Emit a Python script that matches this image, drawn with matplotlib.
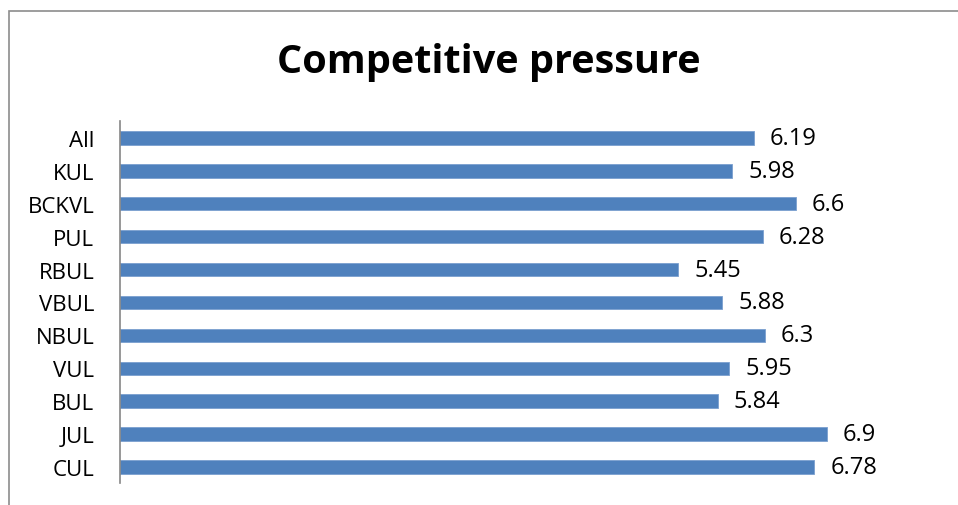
import matplotlib
matplotlib.use('Agg')
import matplotlib.pyplot as plt
from matplotlib.patches import Rectangle

# --- Daten ---
categories = ['All', 'KUL', 'BCKVL', 'PUL', 'RBUL', 'VBUL', 'NBUL', 'VUL', 'BUL', 'JUL', 'CUL']
values = [6.19, 5.98, 6.6, 6.28, 5.45, 5.88, 6.3, 5.95, 5.84, 6.9, 6.78]
value_labels = ['6.19', '5.98', '6.6', '6.28', '5.45', '5.88', '6.3', '5.95', '5.84', '6.9', '6.78']

plt.rcParams['font.family'] = ['Open Sans', 'DejaVu Sans']

fig = plt.figure(figsize=(9.58, 5.06), dpi=100)
ax = fig.add_axes([0.1253, 0.0425, 0.855, 0.7155])

ypos = list(range(len(categories)))
ax.barh(ypos, values, height=0.41, color='#4F81BD', edgecolor='#7A9FCF', linewidth=0.6)

for y, v, lab in zip(ypos, values, value_labels):
    ax.annotate(lab, xy=(v, y), xytext=(11.5, 0), textcoords='offset points',
                va='center', ha='left', fontsize=17, color='black')

ax.set_yticks(ypos)
ax.set_yticklabels(categories, fontsize=16)
ax.set_ylim(len(categories) - 0.5, -0.5)
ax.set_xlim(0, 8)
ax.tick_params(axis='y', length=0, pad=18.5)
ax.set_xticks([])

for side in ['top', 'right', 'bottom']:
    ax.spines[side].set_visible(False)
ax.spines['left'].set_color('#868686')
ax.spines['left'].set_linewidth(1.2)

# Titel
fig.text(0.51, 0.877, 'Competitive pressure', ha='center', va='center',
         fontsize=28.5, fontweight='bold')

# Rahmen um das Diagramm (rechts/unten abgeschnitten)
fig.add_artist(Rectangle((0.0089, -0.1), 1.2, 0.977 + 0.1, transform=fig.transFigure,
                         fill=False, edgecolor='#8C8C8C', linewidth=1.2))

fig.savefig('out.png', dpi=100)
